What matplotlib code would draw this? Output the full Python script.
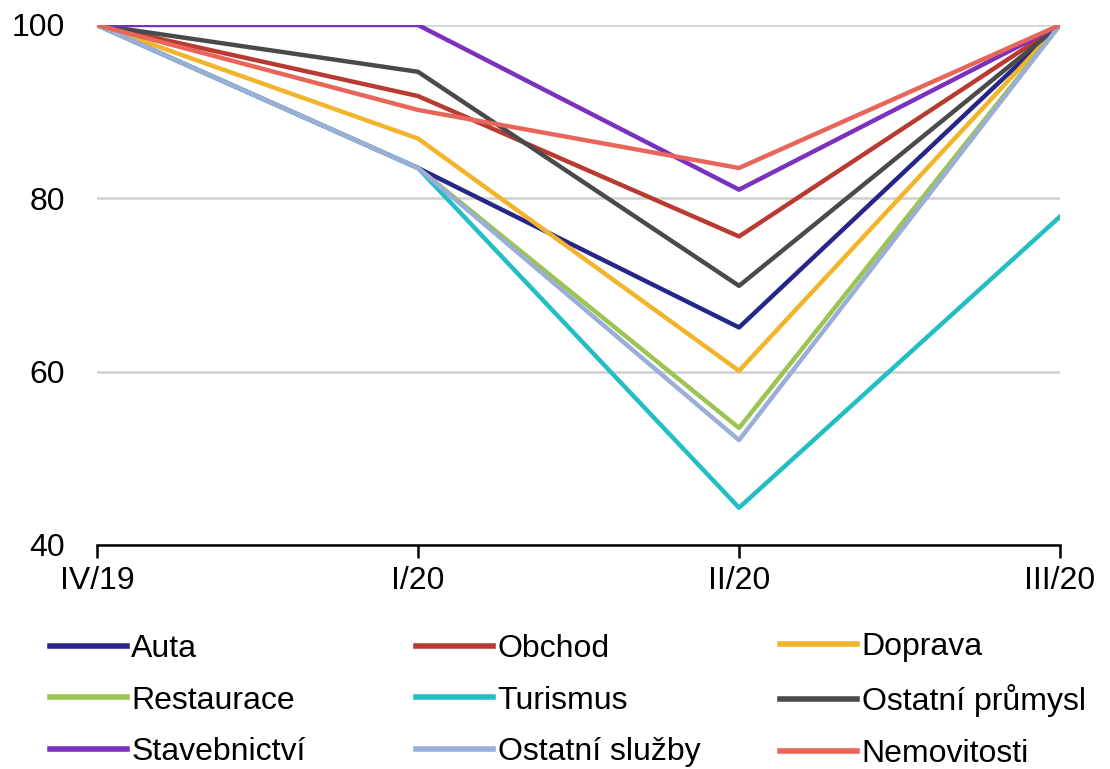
import matplotlib.pyplot as plt

plt.rcParams['font.family'] = ['Liberation Sans', 'DejaVu Sans']

quarters = ['IV/19', 'I/20', 'II/20', 'III/20']

auta = [100, 83.5, 65.1, 100]
obchod = [100, 91.8, 75.6, 100]
doprava = [100, 86.9, 60.1, 100]
restaurace = [100, 83.5, 53.5, 100]
turismus = [100, 83.5, 44.3, 77.9]
ostatni_prumysl = [100, 94.6, 69.9, 100]
stavebnictvi = [100, 100, 81.0, 100]
ostatni_sluzby = [100, 83.5, 52.1, 100]
nemovitosti = [100, 90.2, 83.5, 100]

series = [
    ('Auta', auta, '#262688'),
    ('Obchod', obchod, '#B83A30'),
    ('Doprava', doprava, '#F2B42A'),
    ('Restaurace', restaurace, '#9CC450'),
    ('Turismus', turismus, '#22BEC4'),
    ('Ostatní průmysl', ostatni_prumysl, '#4A4A4A'),
    ('Stavebnictví', stavebnictvi, '#7B30BE'),
    ('Ostatní služby', ostatni_sluzby, '#9AAED8'),
    ('Nemovitosti', nemovitosti, '#E8655A'),
]

fig = plt.figure(figsize=(11.1, 7.69), dpi=100)
ax = fig.add_axes([0.0874, 0.2913, 0.8676, 0.6762])

x = range(len(quarters))
handles = []
for name, vals, col in series:
    h, = ax.plot(x, vals, color=col, lw=3.2, label=name)
    handles.append(h)

ax.set_xlim(0, len(quarters) - 1)
ax.set_ylim(40, 100)
ax.set_yticks([40, 60, 80, 100])
ax.set_xticks(list(x))
ax.set_xticklabels(quarters)
ax.grid(axis='y', color='#D0D0D0', lw=1.8)
ax.set_axisbelow(True)
for s in ['left', 'right', 'top']:
    ax.spines[s].set_visible(False)
ax.spines['bottom'].set_linewidth(1.8)
ax.tick_params(axis='x', length=9, width=1.8, labelsize=23, pad=6)
ax.tick_params(axis='y', length=0, labelsize=23, pad=23)

# legend: three columns, filled row by row
col_x = [0.045, 0.375, 0.703]
for c in range(3):
    idx = [c, c + 3, c + 6]
    leg = fig.legend([handles[i] for i in idx], [series[i][0] for i in idx],
                     loc='center left', bbox_to_anchor=(col_x[c], 0.089),
                     frameon=False, fontsize=23, handlelength=2.4,
                     handletextpad=0.15, labelspacing=0.68, borderaxespad=0,
                     borderpad=0)
    for ln in leg.get_lines():
        ln.set_linewidth(4)

fig.savefig('out.png', dpi=100)
